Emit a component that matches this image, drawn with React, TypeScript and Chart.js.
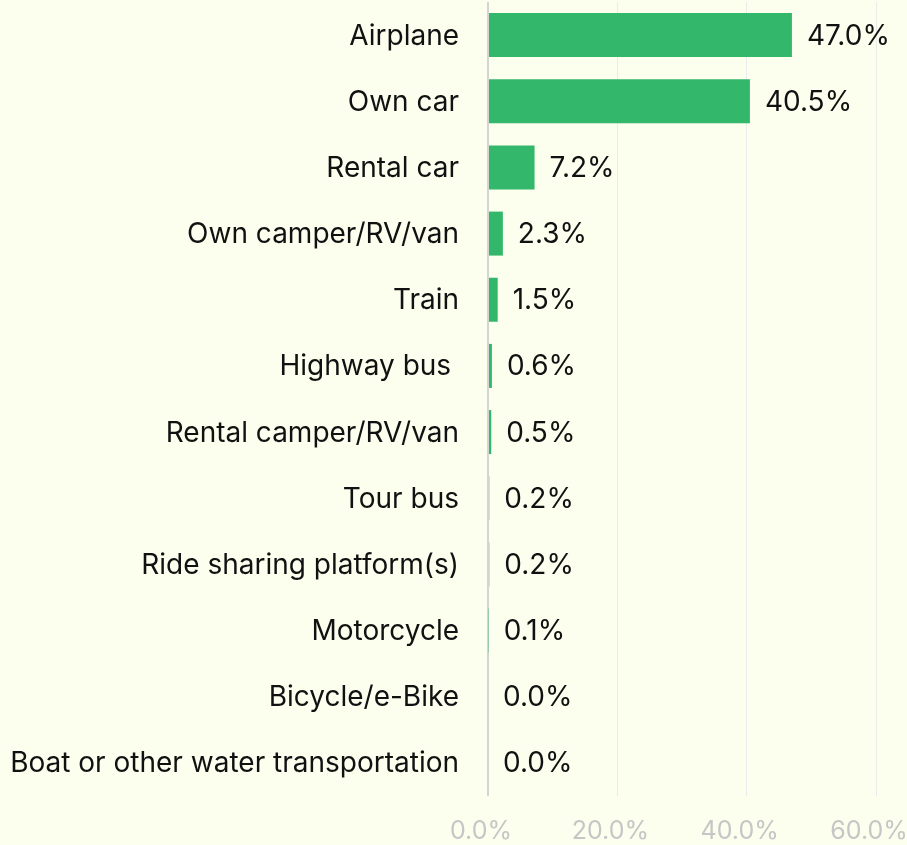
import React, { useEffect, useRef } from "react";
import { Chart, registerables } from "chart.js";

Chart.register(...registerables);

const categories = [
  "Airplane",
  "Own car",
  "Rental car",
  "Own camper/RV/van",
  "Train",
  "Highway bus ",
  "Rental camper/RV/van",
  "Tour bus",
  "Ride sharing platform(s)",
  "Motorcycle",
  "Bicycle/e-Bike",
  "Boat or other water transportation",
];
const values = [47.0, 40.5, 7.2, 2.3, 1.5, 0.6, 0.5, 0.2, 0.2, 0.1, 0.0, 0.0];
const xTicks = [0, 20, 40, 60];

const FONT = "Inter, 'Noto Sans', sans-serif";
const BG = "#fcfeee";
const GREEN = "#33b76a";

const dataLabels = {
  id: "dataLabels",
  afterDatasetsDraw(chart: any) {
    const ctx = chart.ctx;
    const meta = chart.getDatasetMeta(0);
    ctx.save();
    ctx.font = `28px ${FONT}`;
    ctx.fillStyle = "#111111";
    ctx.textAlign = "left";
    ctx.textBaseline = "middle";
    meta.data.forEach((bar: any, i: number) => {
      const v = values[i];
      ctx.fillText(v.toFixed(1) + "%", bar.x + 15, bar.y + 1);
    });
    ctx.restore();
  },
};

const bgPlugin = {
  id: "bg",
  beforeDraw(chart: any) {
    const ctx = chart.ctx;
    ctx.save();
    ctx.fillStyle = BG;
    ctx.fillRect(0, 0, chart.width, chart.height);
    ctx.restore();
  },
};

export default function App() {
  const ref = useRef<HTMLCanvasElement>(null);
  useEffect(() => {
    document.body.style.margin = "0";
    document.body.style.background = BG;
    const chart = new Chart(ref.current!, {
      type: "bar",
      data: {
        labels: categories,
        datasets: [
          {
            data: values,
            backgroundColor: GREEN,
            borderWidth: 0,
            barPercentage: 0.665,
            categoryPercentage: 1,
          },
        ],
      },
      options: {
        indexAxis: "y",
        animation: false,
        responsive: false,
        layout: { padding: { top: 2, right: 0, bottom: 0, left: 0 } },
        plugins: { legend: { display: false }, tooltip: { enabled: false } },
        scales: {
          x: {
            min: 0,
            max: 60,
            afterBuildTicks(scale: any) {
              scale.ticks = xTicks.map((v) => ({ value: v }));
            },
            afterFit(scale: any) {
              scale.height = 49;
              scale.paddingLeft = 0;
              scale.paddingRight = 31;
            },
            grid: {
              color: (c: any) => (c.tick && c.tick.value === 0 ? "#d4d4d4" : "#ebebeb"),
              lineWidth: (c: any) => (c.tick && c.tick.value === 0 ? 2 : 1),
              drawTicks: false,
            },
            border: { display: false },
            ticks: {
              padding: 20,
              labelOffset: -7,
              color: "#c6c6c6",
              font: { family: FONT, size: 25 },
              callback: (v: any) => Number(v).toFixed(1) + "%",
            },
          },
          y: {
            afterFit(scale: any) {
              scale.width = 488;
              scale.paddingTop = 0;
              scale.paddingBottom = 0;
            },
            grid: { display: false, drawTicks: false },
            border: { display: false },
            ticks: {
              padding: 29,
              labelOffset: 1,
              color: "#111111",
              font: { family: FONT, size: 28 },
            },
          },
        },
      },
      plugins: [bgPlugin, dataLabels],
    });
    return () => chart.destroy();
  }, []);
  return (
    <div style={{ width: 907, height: 845, background: BG }}>
      <canvas ref={ref} width={907} height={845} style={{ display: "block" }} />
    </div>
  );
}
